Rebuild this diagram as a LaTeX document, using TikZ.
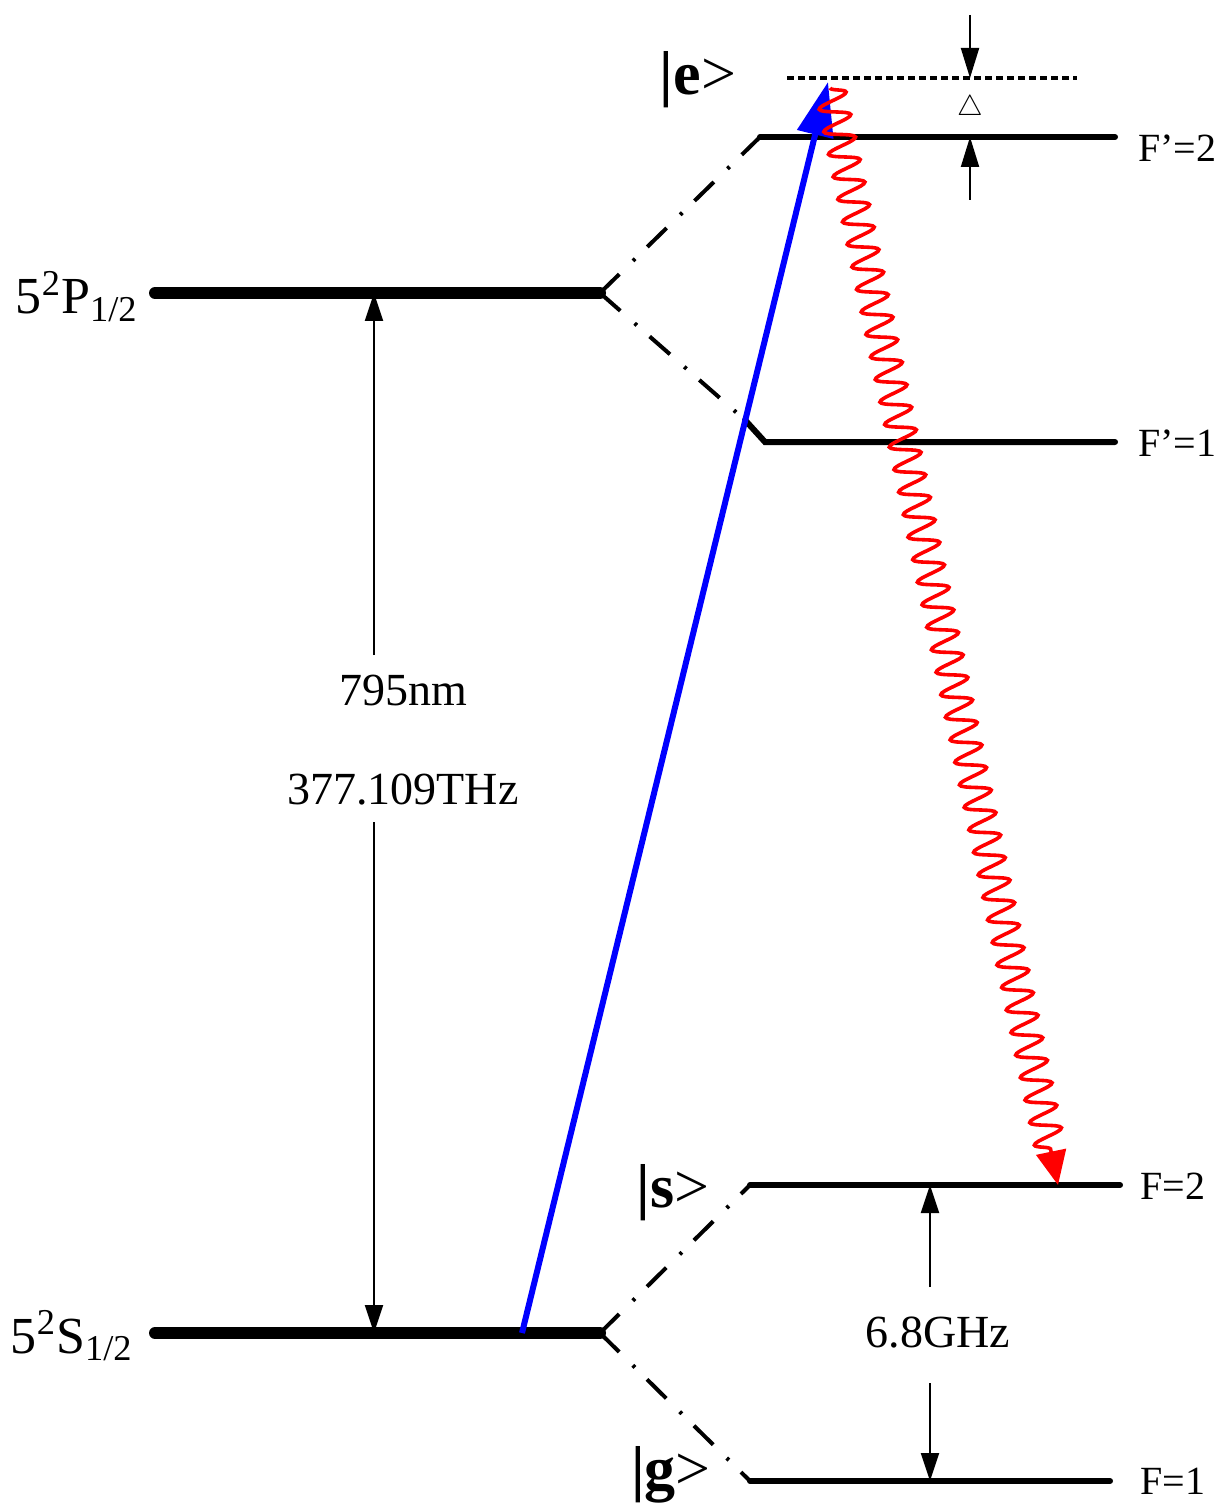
\documentclass[tikz,border=0pt]{standalone}
\usepackage{fontspec}
\setmainfont{Liberation Serif}
\usetikzlibrary{arrows.meta,decorations.pathmorphing}
\begin{document}
\begin{tikzpicture}[x=0.5pt,y=-0.5pt,
  lvl/.style={line width=3pt,line cap=round},
  biglvl/.style={line width=6pt,line cap=round},
  dd/.style={line width=2pt,dash pattern=on 13.5pt off 9.5pt on 1.5pt off 8.5pt},
  dotl/.style={line width=2pt,dash pattern=on 3.5pt off 2pt},
  thinarrow/.style={line width=1pt,-{Triangle[length=14pt,width=9pt]}},
  lbl/.style={font=\fontsize{23}{27}\selectfont,inner sep=0pt},
  flbl/.style={font=\fontsize{20}{24}\selectfont,inner sep=0pt,anchor=west},
  big/.style={font=\fontsize{26}{30}\selectfont,inner sep=0pt},
  ket/.style={font=\fontsize{31}{35}\selectfont,inner sep=0pt}]
\useasboundingbox (0,0) rectangle (1221,1508);
% coordinates of levels
\coordinate (Pl) at (155,293);
\coordinate (Pr) at (600,293);
\coordinate (Sl) at (155,1333);
\coordinate (Sr) at (600,1333);
\coordinate (Ep2l) at (760,137);
\coordinate (Ep2r) at (1115,137);
\coordinate (Ep1k) at (745,420);
\coordinate (Ep1l) at (765,442);
\coordinate (Ep1r) at (1115,442);
\coordinate (G2l) at (750,1185);
\coordinate (G2r) at (1120,1185);
\coordinate (G1l) at (750,1481);
\coordinate (G1r) at (1110,1481);
\coordinate (Dl) at (787,78);
\coordinate (Dr) at (1077,78);
% levels
\draw[biglvl] (Pl) -- (Pr);
\draw[biglvl] (Sl) -- (Sr);
\draw[lvl] (Ep2l) -- (Ep2r);
\draw[lvl] (Ep1k) -- (Ep1l) -- (Ep1r);
\draw[lvl] (G2l) -- (G2r);
\draw[lvl] (G1l) -- (G1r);
\draw[dotl] (Dl) -- (Dr);
% dash-dot splitting lines
\draw[dd] (Pr) -- (Ep2l);
\draw[dd] (Pr) -- (Ep1k);
\draw[dd] (Sr) -- (G2l);
\draw[dd] (Sr) -- (G1l);
% labels
\node[big,anchor=base east] (lP) at (138,314) {5\textsuperscript{2}P\textsubscript{1/2}};
\node[big,anchor=base east] (lS) at (133,1353) {5\textsuperscript{2}S\textsubscript{1/2}};
\node[ket] (ke) at (698,80) {\textbf{|e}>};
\node[ket] (ks) at (673,1193) {\textbf{|s}>};
\node[ket] (kg) at (671,1475) {\textbf{|g}>};
\node[flbl] (f1) at (1138,148) {F’=2};
\node[flbl] (f2) at (1138,443) {F’=1};
\node[flbl] (f3) at (1140,1186) {F=2};
\node[flbl] (f4) at (1140,1481) {F=1};
% 795 nm arrow
\coordinate (Pa) at (374,293);
\coordinate (Sa) at (374,1333);
\node[lbl] (nm) at (403,690) {795nm};
\node[lbl] (thz) at (403,790) {377.109THz};
\coordinate (Pa2) at (374,655);
\coordinate (Sa2) at (374,822);
\draw[thinarrow] (Pa2) -- (Pa);
\draw[thinarrow] (Sa2) -- (Sa);
% 6.8 GHz arrow
\coordinate (Ga) at (930,1185);
\coordinate (Gb) at (930,1481);
\coordinate (Ga2) at (930,1287);
\coordinate (Gb2) at (930,1383);
\node[lbl] (ghz) at (938,1333) {6.8GHz};
\draw[thinarrow] (Ga2) -- (Ga);
\draw[thinarrow] (Gb2) -- (Gb);
% detuning
\coordinate (Da) at (970,15);
\coordinate (Db) at (970,78);
\coordinate (Dc) at (970,200);
\coordinate (Dd) at (970,137);
\draw[line width=1pt,-{Triangle[length=15pt,width=9pt]}] (Da) -- (Db);
\draw[line width=1pt,-{Triangle[length=15pt,width=9pt]}] (Dc) -- (Dd);
\node[inner sep=0pt,font=\fontsize{14}{16}\selectfont] (delta) at (970,108) {$\triangle$};
% pump (blue)
\coordinate (Bs) at (522,1333);
\coordinate (Be) at (828,82);
\draw[blue,line width=3pt,-{Triangle[length=27pt,width=18pt]}] (Bs) -- (Be);
% emission (red, wavy)
\coordinate (Rs) at (830,88);
\coordinate (Re) at (1058,1185);
\draw[red,line width=1.8pt,-{Triangle[length=17pt,width=15pt]},
  decorate,decoration={snake,segment length=11.5pt,amplitude=7.5pt,post length=18pt}] (Rs) -- (Re);
\end{tikzpicture}
\end{document}
